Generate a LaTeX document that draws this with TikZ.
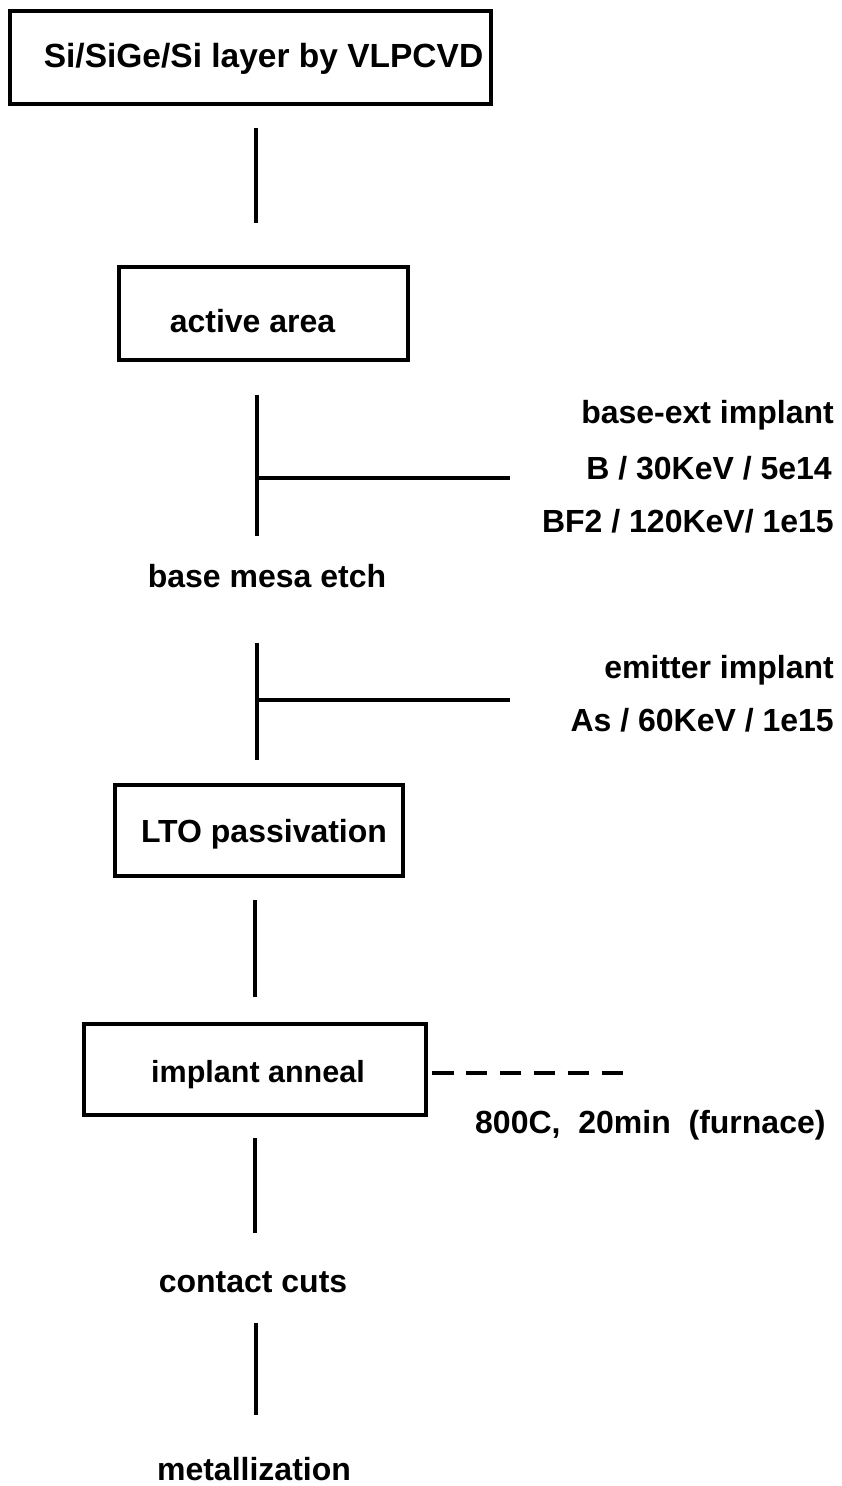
\documentclass[tikz,border=0pt]{standalone}
\usepackage{fontspec}
\setmainfont{Liberation Sans}
\begin{document}
\begin{tikzpicture}[x=1pt,y=-1pt,
  lbl/.style={font=\fontsize{32}{38}\selectfont\bfseries, inner sep=0pt},
  stepbox/.style={draw, line width=4pt, inner sep=0pt, text height=23pt, text depth=0pt, font=\fontsize{32}{38}\selectfont\bfseries},
  conn/.style={line width=4.5pt},
  dashconn/.style={line width=4.5pt, dash pattern=on 21.5pt off 12.4pt}
]
\useasboundingbox (0,0) rectangle (841,1486);

% boxes
\node[stepbox, minimum width=481pt, minimum height=93pt, font=\fontsize{33.5}{40}\selectfont\bfseries] (b1) at (250.5,57.5) {\hspace*{26pt}\raisebox{2pt}{Si/SiGe/Si layer by VLPCVD}};
\node[stepbox, minimum width=289pt, minimum height=93pt] (b2) at (263.5,313.5) {\raisebox{-7pt}{active area}\hspace*{22pt}};
\node[stepbox, minimum width=288pt, minimum height=91pt] (b3) at (259,830.5) {LTO passivation\hspace*{-10pt}};
\node[stepbox, minimum width=342pt, minimum height=91pt, font=\fontsize{30.5}{36}\selectfont\bfseries] (b4) at (255,1069.5) {\raisebox{-1pt}{implant anneal}\hspace*{-6pt}};

% plain labels
\node[lbl, anchor=base] (t1) at (267,587) {base mesa etch};
\node[lbl, anchor=base] (t2) at (253,1292) {contact cuts};
\node[lbl, anchor=base] (t3) at (254,1480) {metallization};

\node[lbl, anchor=base east] (r1) at (834,423) {base-ext implant};
\node[lbl, anchor=base east] (r2) at (832,479) {B / 30KeV / 5e14};
\node[lbl, anchor=base east] (r3) at (834,532) {BF2 / 120KeV/ 1e15};
\node[lbl, anchor=base east] (r4) at (834,678) {emitter implant};
\node[lbl, anchor=base east] (r5) at (834,731) {As / 60KeV / 1e15};
\node[lbl, anchor=base west] (r6) at (475,1133) {800C,\ \ 20min\ \ (furnace)};

% connector end points
\coordinate (l1a) at (256,128);  \coordinate (l1b) at (256,223);
\coordinate (l2a) at (257,395);  \coordinate (l2b) at (257,536);
\coordinate (l2m) at (257,478);  \coordinate (l2e) at (510,478);
\coordinate (l3a) at (257,643);  \coordinate (l3b) at (257,760);
\coordinate (l3m) at (257,700);  \coordinate (l3e) at (510,700);
\coordinate (l4a) at (255,900);  \coordinate (l4b) at (255,997);
\coordinate (l5a) at (255,1138); \coordinate (l5b) at (255,1233);
\coordinate (l6a) at (256,1323); \coordinate (l6b) at (256,1415);
\coordinate (d1a) at (432,1073); \coordinate (d1b) at (624,1073);

\draw[conn] (l1a) -- (l1b);
\draw[conn] (l2a) -- (l2b);
\draw[conn] (l2m) -- (l2e);
\draw[conn] (l3a) -- (l3b);
\draw[conn] (l3m) -- (l3e);
\draw[conn] (l4a) -- (l4b);
\draw[conn] (l5a) -- (l5b);
\draw[conn] (l6a) -- (l6b);
\draw[dashconn] (d1a) -- (d1b);
\end{tikzpicture}
\end{document}
